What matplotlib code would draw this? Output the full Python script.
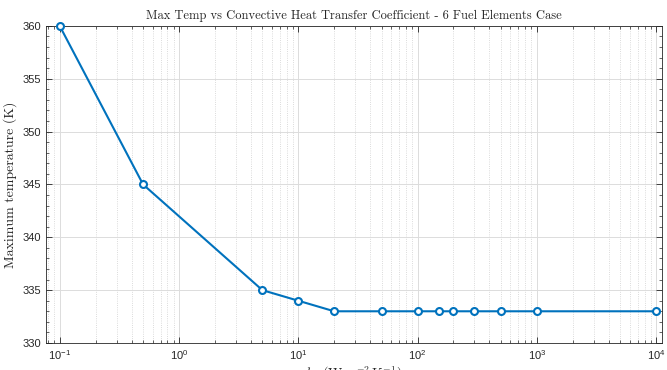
import matplotlib
matplotlib.use("Agg")
import matplotlib.pyplot as plt
from matplotlib.ticker import LogLocator, MultipleLocator, NullFormatter

h_values = [0.1, 0.5, 5, 10, 20, 50, 100, 150, 200, 300, 500, 1000, 10000]
max_temp = [360, 345, 335, 334, 333, 333, 333, 333, 333, 333, 333, 333, 333]

plt.rcParams['mathtext.fontset'] = 'cm'
plt.rcParams['font.family'] = ['Liberation Sans', 'DejaVu Sans']

fig = plt.figure(figsize=(6.67, 3.70), dpi=100)
ax = fig.add_axes([0.069, 0.073, 0.9235, 0.857])

ax.semilogx(h_values, max_temp, '-o', color='#0072BD', lw=1.5,
            markerfacecolor='white', markeredgecolor='#0072BD', markersize=5,
            markeredgewidth=1.5, zorder=3, clip_on=False)

ax.set_xlim(0.0768, 1.12e4)
ax.set_ylim(330, 360)
ax.yaxis.set_major_locator(MultipleLocator(5))
ax.yaxis.set_minor_locator(MultipleLocator(1))
ax.xaxis.set_major_locator(LogLocator(base=10, numticks=20))
ax.xaxis.set_minor_locator(LogLocator(base=10, subs=range(2, 10), numticks=50))
ax.xaxis.set_minor_formatter(NullFormatter())

ax.grid(True, which='major', color='#dcdcdc', lw=0.7)
ax.grid(True, which='minor', axis='x', color='#cfcfcf', lw=0.6, ls=':')
ax.set_axisbelow(True)

for s in ax.spines.values():
    s.set_color('#262626')
    s.set_linewidth(0.6)
ax.tick_params(which='both', direction='in', top=True, right=True, colors='#262626',
               labelsize=8)
ax.tick_params(which='major', length=4, width=0.6)
ax.tick_params(which='minor', length=2, width=0.5)

ax.set_title('Max Temp vs Convective Heat Transfer Coefficient - 6 Fuel Elements Case',
             fontsize=9, color='#262626', pad=5, family=['cmr10', 'DejaVu Serif'])
ax.set_xlabel(r'$h_c\ (\mathrm{W\,m^{-2}\,K^{-1}})$', fontsize=10, color='#262626', labelpad=2)
ax.set_ylabel('Maximum temperature (K)', fontsize=10, color='#262626', labelpad=4,
              family=['cmr10', 'DejaVu Serif'])

fig.savefig('out.png', dpi=100)
